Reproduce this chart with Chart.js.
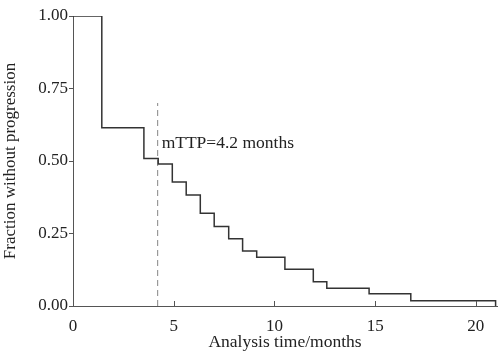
<!DOCTYPE html>
<html>
<head>
<meta charset="utf-8">
<script src="https://cdn.jsdelivr.net/npm/chart.js@4.4.0/dist/chart.umd.min.js"></script>
<style>
  body { margin: 0; background: #fff; }
  #wrap { width: 500px; height: 353px; }
</style>
</head>
<body>
<div id="wrap"><canvas id="kmChart" width="500" height="353"></canvas></div>
<script>
// ===== Data =====
const stepTimes = [0, 1.43, 3.52, 4.23, 4.93, 5.62, 6.32, 7.01, 7.73, 8.42, 9.12, 10.52, 11.93, 12.6, 14.7, 16.77, 20.98];
const survival  = [1.0, 0.615, 0.509, 0.490, 0.428, 0.383, 0.320, 0.274, 0.232, 0.190, 0.168, 0.127, 0.084, 0.061, 0.042, 0.018, 0.0];
const medianX = [4.2, 4.2];
const medianY = [0, 0.7];
const medianLabel = 'mTTP=4.2 months';
const xTickValues = [0, 5, 10, 15, 20];
const yTickValues = [0, 0.25, 0.5, 0.75, 1.0];

const FONT = "'Liberation Serif', 'DejaVu Serif', serif";
const TEXT = '#222';

// inward x ticks + the median label
const extras = {
  id: 'extras',
  afterDraw(chart) {
    const { ctx, scales: { x, y } } = chart;
    ctx.save();
    ctx.strokeStyle = '#555';
    ctx.lineWidth = 1;
    x.ticks.forEach(t => {
      const px = Math.round(x.getPixelForValue(t.value)) + 0.5;
      ctx.beginPath();
      ctx.moveTo(px, y.bottom);
      ctx.lineTo(px, y.bottom - 5);
      ctx.stroke();
    });
    ctx.fillStyle = TEXT;
    ctx.font = '17.5px ' + FONT;
    ctx.textBaseline = 'middle';
    ctx.fillText(medianLabel, x.getPixelForValue(4.4), y.getPixelForValue(0.56));
    ctx.restore();
  }
};

new Chart(document.getElementById('kmChart'), {
  type: 'line',
  data: {
    datasets: [{
      data: stepTimes.map((t, i) => ({ x: t, y: survival[i] })),
      stepped: true,
      borderColor: '#333',
      borderWidth: 1.5,
      pointRadius: 0,
      fill: false
    }, {
      data: medianX.map((t, i) => ({ x: t, y: medianY[i] })),
      borderColor: '#999',
      borderWidth: 1.2,
      borderDash: [6, 4],
      pointRadius: 0,
      fill: false
    }]
  },
  options: {
    responsive: false,
    animation: false,
    layout: { padding: { top: 16, right: 3, left: 0, bottom: 0 } },
    plugins: { legend: { display: false }, tooltip: { enabled: false } },
    scales: {
      x: {
        type: 'linear',
        min: 0,
        max: 21.05,
        afterBuildTicks: s => { s.ticks = xTickValues.map(v => ({ value: v })); },
        afterFit: s => { s.height = 47; },
        grid: { display: false },
        border: { display: true, color: '#555', width: 1 },
        ticks: {
          color: TEXT,
          font: { family: FONT, size: 17 },
          padding: 2,
          maxRotation: 0,
          callback: v => String(v)
        },
        title: {
          display: true,
          text: 'Analysis time/months',
          color: TEXT,
          font: { family: FONT, size: 17.5 },
          padding: { top: 0, bottom: 0 }
        }
      },
      y: {
        min: 0,
        max: 1.0,
        afterBuildTicks: s => { s.ticks = yTickValues.map(v => ({ value: v })); },
        afterFit: s => { s.width = 73; },
        grid: { display: true, drawOnChartArea: false, drawTicks: true, tickLength: 4, color: '#555' },
        border: { display: true, color: '#555', width: 1 },
        ticks: {
          color: TEXT,
          font: { family: FONT, size: 17 },
          padding: 1,
          callback: v => Number(v).toFixed(2)
        },
        title: {
          display: true,
          text: 'Fraction without progression',
          color: TEXT,
          font: { family: FONT, size: 17 },
          padding: { top: 0, bottom: 2 }
        }
      }
    }
  },
  plugins: [extras]
});
</script>
</body>
</html>
